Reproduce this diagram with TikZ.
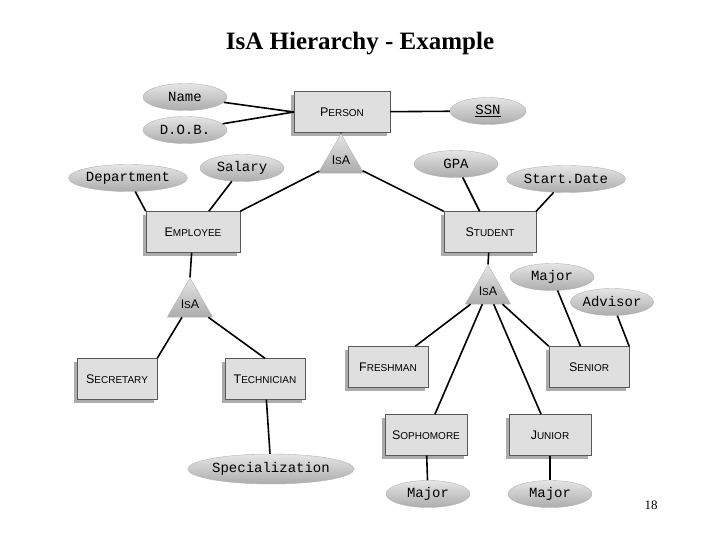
\documentclass[tikz,border=0pt]{standalone}
\usepackage{fontspec}
\setmainfont{Liberation Serif}
\newfontfamily\boxfont{Liberation Sans}
\newfontfamily\ellfont{Liberation Mono}
\usetikzlibrary{shapes.geometric,shadows}
\newcommand{\fsc}[2]{{\fontsize{12.5}{13}\selectfont #1}{\fontsize{10}{11}\selectfont #2}}
\begin{document}
\begin{tikzpicture}[x=1pt,y=-1pt,
  ent/.style={draw=gray!70!black, line width=0.4pt, fill=gray!25, minimum width=#1, minimum height=41, font=\boxfont,
     drop shadow={shadow xshift=-3.5pt, shadow yshift=-3.5pt, opacity=1, fill=gray!65}},
  ent/.default=92,
  att/.style={ellipse, draw=gray!60, shading=axis, top color=gray!20, bottom color=gray!65, inner sep=0, minimum width=#1, minimum height=27, font=\ellfont\fontsize{14}{15}\selectfont},
  att/.default=84,
  isa/.style={regular polygon, regular polygon sides=3, draw=gray!60, shading=axis, top color=gray!20, bottom color=gray!65, minimum size=44, inner sep=0, font=\boxfont},
  ln/.style={line width=1.6pt}]
\useasboundingbox (0,0) rectangle (720,540);
\node[font=\bfseries\fontsize{25}{28}\selectfont] (title) at (360,44) {IsA Hierarchy - Example};
\node[font=\fontsize{13}{14}\selectfont] (pg) at (651,505) {18};

\node[ent=96] (person) at (342,112) {\fsc{P}{ERSON}};
\node[ent=94] (emp) at (193,232) {\fsc{E}{MPLOYEE}};
\node[ent=92] (stu) at (490,232) {\fsc{S}{TUDENT}};
\node[ent=80] (sec) at (117,379) {\fsc{S}{ECRETARY}};
\node[ent=80] (tech) at (265,379) {\fsc{T}{ECHNICIAN}};
\node[ent=80] (fresh) at (388,367) {\fsc{F}{RESHMAN}};
\node[ent=80] (sen) at (589,367) {\fsc{S}{ENIOR}};
\node[ent=82] (soph) at (426,435) {\fsc{S}{OPHOMORE}};
\node[ent=82] (jun) at (550,435) {\fsc{J}{UNIOR}};

\node[isa] (i1) at (341,160) {\fsc{I}{S}\fsc{A}{}};
\node[isa] (i2) at (190,304) {\fsc{I}{S}\fsc{A}{}};
\node[isa] (i3) at (488,291) {\fsc{I}{S}\fsc{A}{}};

\node[att] (name) at (185,97) {Name};
\node[att] (dob) at (185,130) {D.O.B.};
\node[att=76] (ssn) at (488,111) {\underline{SSN}};
\node[att=108] (dept) at (128,178) {Department};
\node[att] (sal) at (242,168) {Salary};
\node[att] (gpa) at (456,164) {GPA};
\node[att=94] (sd) at (566,179) {Start.Date};
\node[att] (maj) at (552,277) {Major};
\node[att=72] (adv) at (612,302) {Advisor};
\node[att=128, minimum height=30] (spec) at (271,469) {Specialization};
\node[att] (m1) at (428,494) {Major};
\node[att] (m2) at (550,494) {Major};

\draw[ln] (name) -- (person.west);
\draw[ln] (dob) -- (person.west);
\draw[ln] (ssn) -- (person);
\draw[ln] (person) -- (i1.north);
\draw[ln] (i1) -- (emp.north east);
\draw[ln] (i1) -- (stu.north west);
\draw[ln] (dept) -- (emp.north west);
\draw[ln] (sal) -- (emp);
\draw[ln] (gpa) -- (stu);
\draw[ln] (sd) -- (stu.north east);
\draw[ln] (emp) -- (i2.north);
\draw[ln] (i2) -- (sec.north east);
\draw[ln] (i2) -- (tech.north);
\draw[ln] (tech) -- (spec);
\draw[ln] (stu) -- (i3.north);
\draw[ln] (i3) -- (fresh);
\draw[ln] (i3) -- (soph);
\draw[ln] (i3) -- (jun);
\draw[ln] (i3) -- (sen.north west);
\draw[ln] (maj) -- (sen);
\draw[ln] (adv) -- (sen.north east);
\draw[ln] (soph) -- (m1);
\draw[ln] (jun) -- (m2);
\end{tikzpicture}
\end{document}
